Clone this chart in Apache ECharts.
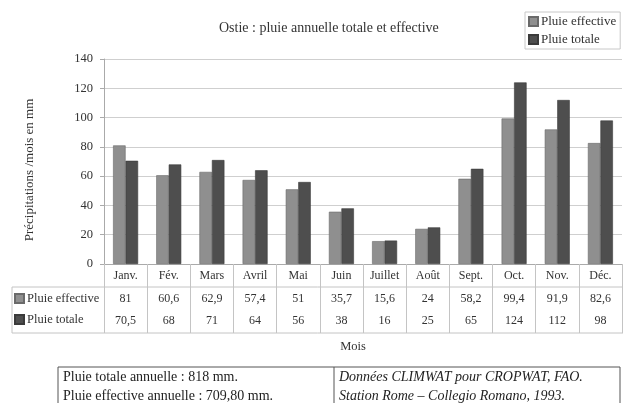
<!DOCTYPE html>
<html>
<head>
<meta charset="utf-8">
<script src="https://cdn.jsdelivr.net/npm/echarts@6/dist/echarts.min.js"></script>
<style>
  html, body { margin: 0; padding: 0; background: #fff; }
  #chart { width: 623px; height: 403px; }
</style>
</head>
<body>
<div id="chart"></div>
<script>
// Monthly rainfall at Ostia (mm)
const months = ['Janv.', 'Fév.', 'Mars', 'Avril', 'Mai', 'Juin', 'Juillet', 'Août', 'Sept.', 'Oct.', 'Nov.', 'Déc.'];
const pluieEffective = [81, 60.6, 62.9, 57.4, 51, 35.7, 15.6, 24, 58.2, 99.4, 91.9, 82.6];
const pluieTotale = [70.5, 68, 71, 64, 56, 38, 16, 25, 65, 124, 112, 98];
const seriesNames = ['Pluie effective', 'Pluie totale'];
const yTicks = { min: 0, max: 140, interval: 20 };

const FONT = '"Liberation Serif", "DejaVu Serif", serif';
const TEXT = '#333';
const GRID = { left: 104, right: 1, top: 59, bottom: 139 };
const TABLE_LEFT = 12, TABLE_RIGHT = 623, ROW1 = 287, TABLE_BOTTOM = 333;

const fmt = v => String(v).replace('.', ',');

const chart = echarts.init(document.getElementById('chart'), null, { renderer: 'canvas' });

chart.setOption({
  backgroundColor: '#fff',
  animation: false,
  title: {
    text: 'Ostie : pluie annuelle totale et effective',
    left: 214, top: 16,
    textStyle: { fontFamily: FONT, fontSize: 14, fontWeight: 'normal', color: TEXT }
  },
  legend: [
    {
      data: seriesNames,
      orient: 'vertical',
      left: 525, top: 12,
      padding: [3, 4, 3, 3],
      itemWidth: 9, itemHeight: 9, itemGap: 5,
      borderColor: '#c8c8c8', borderWidth: 1,
      icon: 'rect',
      textStyle: { fontFamily: FONT, fontSize: 13, color: TEXT, padding: [0, 0, 0, -2] }
    },
    {
      data: seriesNames,
      orient: 'vertical',
      left: 14, top: 292,
      padding: 0,
      itemWidth: 9, itemHeight: 9, itemGap: 8,
      icon: 'rect',
      selectedMode: false,
      textStyle: { fontFamily: FONT, fontSize: 12.5, color: TEXT, padding: [0, 0, 0, -2] }
    }
  ],
  grid: GRID,
  xAxis: {
    type: 'category',
    data: months,
    axisLine: { show: true, lineStyle: { color: '#aaa', width: 1 } },
    axisTick: { show: true, interval: 0, length: TABLE_BOTTOM - 264, lineStyle: { color: '#c4c4c4' } },
    axisLabel: {
      interval: 0,
      margin: 0,
      formatter: (val, idx) =>
        '{c|' + val + '}\n{v|' + fmt(pluieEffective[idx]) + '}\n{v|' + fmt(pluieTotale[idx]) + '}',
      rich: {
        c: { fontFamily: FONT, fontSize: 12, color: TEXT, lineHeight: 24 },
        v: { fontFamily: FONT, fontSize: 12, color: TEXT, lineHeight: 22 }
      }
    }
  },
  yAxis: {
    type: 'value',
    min: yTicks.min, max: yTicks.max, interval: yTicks.interval,
    axisLine: { show: true, lineStyle: { color: '#aaa' } },
    axisTick: { show: true, length: 4, lineStyle: { color: '#aaa' } },
    axisLabel: { fontFamily: FONT, fontSize: 12.5, color: TEXT, margin: 11 },
    splitLine: { show: true, lineStyle: { color: '#cfcfcf', width: 1 } }
  },
  series: [
    {
      name: seriesNames[0], type: 'bar', data: pluieEffective,
      barWidth: 12.5, barGap: '0%',
      itemStyle: { color: '#8f8f8f', borderColor: '#6a6a6a', borderWidth: 0.6 }
    },
    {
      name: seriesNames[1], type: 'bar', data: pluieTotale,
      barWidth: 12.5, barGap: '0%',
      itemStyle: { color: '#4e4e4e', borderColor: '#3a3a3a', borderWidth: 0.6 }
    }
  ],
  graphic: [
    // data table frame below the axis
    { type: 'line', shape: { x1: TABLE_LEFT, y1: ROW1, x2: TABLE_RIGHT, y2: ROW1 }, style: { stroke: '#c4c4c4', lineWidth: 1 } },
    { type: 'line', shape: { x1: TABLE_LEFT, y1: TABLE_BOTTOM, x2: TABLE_RIGHT, y2: TABLE_BOTTOM }, style: { stroke: '#c4c4c4', lineWidth: 1 } },
    { type: 'line', shape: { x1: TABLE_LEFT, y1: ROW1, x2: TABLE_LEFT, y2: TABLE_BOTTOM }, style: { stroke: '#c4c4c4', lineWidth: 1 } },
    // axis titles
    {
      type: 'text', x: 30, y: 170, rotation: Math.PI / 2,
      style: { text: 'Précipitations /mois en mm', font: '13px ' + FONT, fill: TEXT, textAlign: 'center', textVerticalAlign: 'middle' }
    },
    {
      type: 'text', x: 353, y: 347,
      style: { text: 'Mois', font: '12.5px ' + FONT, fill: TEXT, textAlign: 'center', textVerticalAlign: 'middle' }
    },
    // annual summary box
    { type: 'rect', shape: { x: 58, y: 367, width: 562, height: 60 }, style: { fill: 'none', stroke: '#555', lineWidth: 1 } },
    { type: 'line', shape: { x1: 334, y1: 367, x2: 334, y2: 403 }, style: { stroke: '#555', lineWidth: 1 } },
    { type: 'text', x: 63, y: 377, style: { text: 'Pluie totale annuelle : 818 mm.', font: '14px ' + FONT, fill: '#222', textVerticalAlign: 'middle' } },
    { type: 'text', x: 63, y: 396, style: { text: 'Pluie effective annuelle : 709,80 mm.', font: '14px ' + FONT, fill: '#222', textVerticalAlign: 'middle' } },
    { type: 'text', x: 339, y: 377, style: { text: 'Données CLIMWAT pour CROPWAT, FAO.', font: 'italic 14px ' + FONT, fill: '#222', textVerticalAlign: 'middle' } },
    { type: 'text', x: 339, y: 396, style: { text: 'Station Rome – Collegio Romano, 1993.', font: 'italic 14px ' + FONT, fill: '#222', textVerticalAlign: 'middle' } }
  ]
});
</script>
</body>
</html>
